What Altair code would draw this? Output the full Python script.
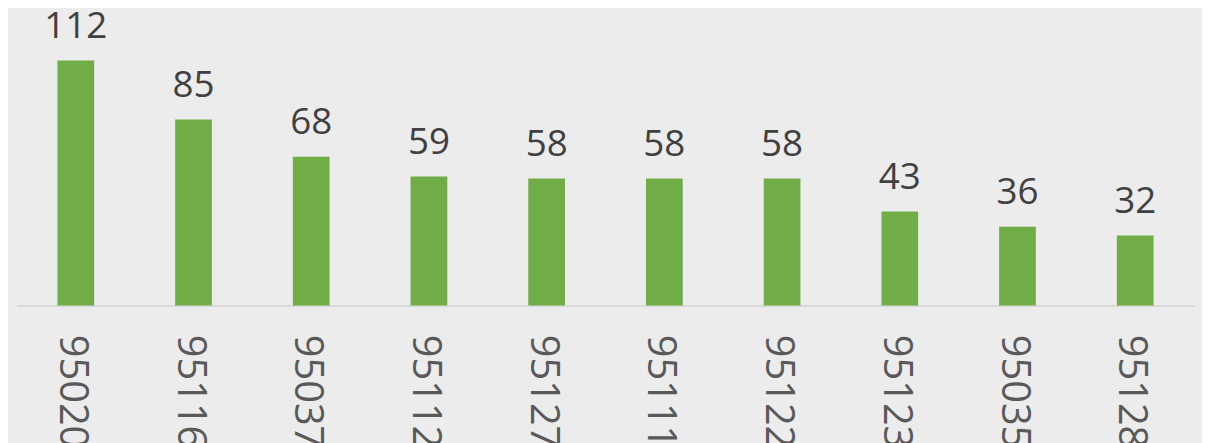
import altair as alt
import pandas as pd

zips = ["95020", "95116", "95037", "95112", "95127", "95111", "95122", "95123", "95035", "95128"]
values = [112, 85, 68, 59, 58, 58, 58, 43, 36, 32]

df = pd.DataFrame({"zip": zips, "value": values})

base = alt.Chart(df).encode(
    x=alt.X(
        "zip:N",
        sort=zips,
        scale=alt.Scale(paddingInner=0.688, paddingOuter=0.344),
        axis=alt.Axis(
            title=None,
            labelAngle=90,
            labelFontSize=40,
            labelFont="Open Sans",
            labelColor="#595959",
            labelPadding=29,
            labelOffset=-4,
            ticks=False,
            grid=False,
            domainColor="#d9d9d9",
            domainWidth=2,
            labelOverlap=False,
        ),
    ),
    y=alt.Y("value:Q", scale=alt.Scale(domain=[0, 135.3], nice=False), axis=None),
)

bars = base.mark_bar(color="#70ad47")
text = base.mark_text(
    baseline="alphabetic", dy=-23, fontSize=37, font="Open Sans", color="#404040"
).encode(text="value:Q")

chart = (
    (bars + text)
    .properties(
        width=1185,
        height=298,
        autosize=alt.AutoSizeParams(type="none"),
        padding={"left": 9, "top": 0, "right": 8, "bottom": 137},
        background="#ececec",
    )
    .configure_view(stroke=None)
)

chart.save("out.html", embed_options={"renderer": "svg", "actions": False})
